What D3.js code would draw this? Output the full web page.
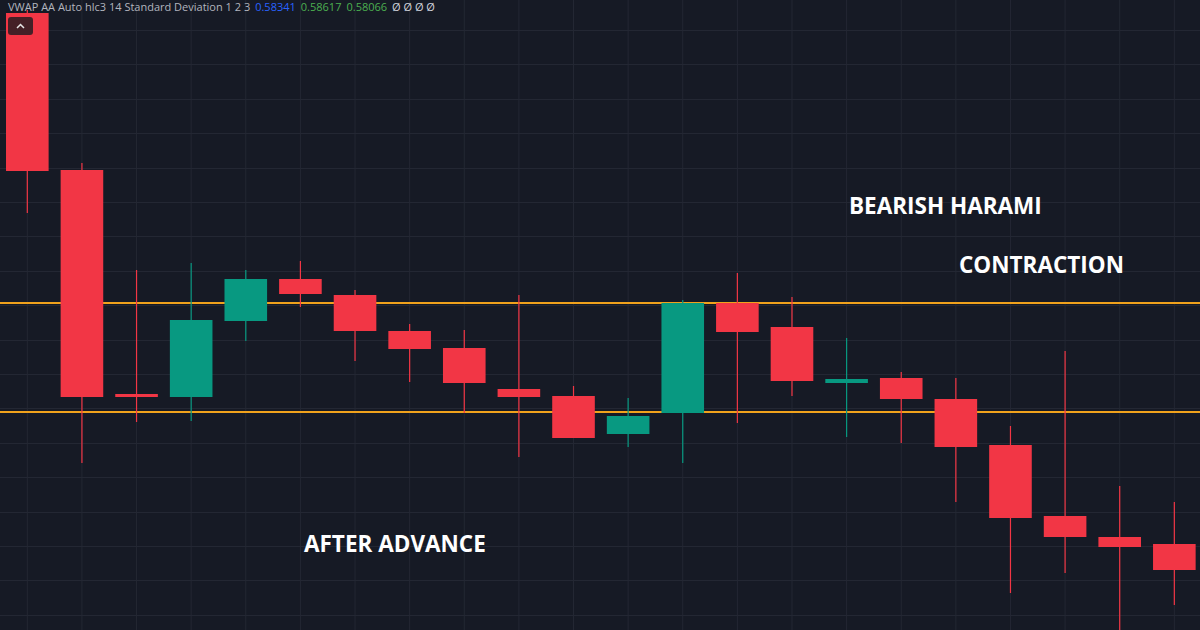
<!DOCTYPE html>
<html><head><meta charset="utf-8">
<script src="https://cdn.jsdelivr.net/npm/d3@7"></script>
<style>
html,body{margin:0;padding:0;background:#161a25;}
svg{display:block;}
</style></head>
<body>
<svg id="chart" width="1200" height="630"></svg>
<script>
// Candle data (price units)
const bars = d3.range(22);
const opens  = [0.59085,0.58300,0.57180,0.57165,0.57545,0.57755,0.57675,0.57495,0.57410,0.57205,0.57170,0.56980,0.57085,0.57635,0.57515,0.57235,0.57260,0.57155,0.56925,0.56570,0.56465,0.56430];
const highs  = [0.59100,0.58335,0.57800,0.57835,0.57800,0.57845,0.57700,0.57530,0.57500,0.57675,0.57220,0.57160,0.57650,0.57785,0.57665,0.57460,0.57290,0.57260,0.57020,0.57395,0.56720,0.56640];
const lows   = [0.58085,0.56835,0.57040,0.57045,0.57445,0.57615,0.57345,0.57240,0.57085,0.56865,0.56960,0.56915,0.56835,0.57035,0.57170,0.56965,0.56935,0.56640,0.56185,0.56285,0.55975,0.56125];
const closes = [0.58295,0.57165,0.57165,0.57550,0.57755,0.57680,0.57495,0.57405,0.57235,0.57165,0.56960,0.57070,0.57635,0.57490,0.57245,0.57255,0.57155,0.56915,0.56560,0.56465,0.56415,0.56300];
const levels = [0.57635, 0.57090];
const headerParts = [
  {t:"VWAP AA Auto hlc3 14 Standard Deviation 1 2 3", c:"#b2b5be"},
  {t:"0.58341", c:"#2962ff"},
  {t:"0.58617", c:"#4caf50"},
  {t:"0.58066", c:"#4caf50"},
  {t:"Ø Ø Ø Ø", c:"#d1d4dc"}
];
const labels = [
  {t:"BEARISH HARAMI", x:849, p:0.58080},
  {t:"CONTRACTION", x:959, p:0.57785},
  {t:"AFTER ADVANCE", x:304, p:0.56390}
];

const W = 1200, H = 630;
const svg = d3.select("#chart");
const x = d3.scaleBand().domain(bars).range([0, 22*54.62]).paddingInner(0.22).paddingOuter(0.11);
const y = d3.scaleLinear().domain([0.5600, 0.5915]).range([H, 0]);

svg.append("rect").attr("width",W).attr("height",H).attr("fill","#161a25");

// grid
const g = svg.append("g");
g.selectAll("line.v").data(bars).join("line")
  .attr("x1", d=>x(d)+x.bandwidth()/2).attr("x2", d=>x(d)+x.bandwidth()/2)
  .attr("y1",0).attr("y2",H).attr("stroke","#232733").attr("stroke-width",1);
const hticks = d3.range(0.5900, 0.5595, -0.00172);
g.selectAll("line.h").data(hticks).join("line")
  .attr("x1",0).attr("x2",W)
  .attr("y1", d=>Math.round(y(d))+0.5).attr("y2", d=>Math.round(y(d))+0.5)
  .attr("stroke","#232733").attr("stroke-width",1);

// levels
svg.selectAll("line.lvl").data(levels).join("line")
  .attr("x1",0).attr("x2",W)
  .attr("y1", d=>y(d)).attr("y2", d=>y(d))
  .attr("stroke","#f0a21c").attr("stroke-width",2);

const up = i => closes[i] >= opens[i];
const col = i => up(i) ? "#089981" : "#f23645";

// wicks
svg.selectAll("line.wick").data(bars).join("line")
  .attr("x1", d=>x(d)+x.bandwidth()/2).attr("x2", d=>x(d)+x.bandwidth()/2)
  .attr("y1", d=>y(highs[d])).attr("y2", d=>y(lows[d]))
  .attr("stroke", d=>col(d)).attr("stroke-width",1.2);
// bodies
svg.selectAll("rect.body").data(bars).join("rect")
  .attr("x", d=>x(d)).attr("width", x.bandwidth())
  .attr("y", d=>y(Math.max(opens[d],closes[d])))
  .attr("height", d=>Math.max(3, Math.abs(y(opens[d])-y(closes[d]))))
  .attr("fill", d=>col(d));

// header
const ht = svg.append("text").attr("x",8).attr("y",8).attr("font-family","'Open Sans', sans-serif")
  .attr("font-size",11).attr("dominant-baseline","middle");
headerParts.forEach((p,i)=>{
  ht.append("tspan").attr("fill",p.c).attr("dx", i===0?0:5).text(p.t);
});

// collapse button
svg.append("rect").attr("x",8).attr("y",17).attr("width",25).attr("height",18).attr("rx",3)
  .attr("fill","#3a2026").attr("opacity",0.95);
svg.append("path").attr("d","M17 28 L20.5 24.5 L24 28").attr("fill","none").attr("stroke","#e6e6e6").attr("stroke-width",1.5);

// labels
svg.selectAll("text.lbl").data(labels).join("text")
  .attr("x", d=>d.x).attr("y", d=>y(d.p))
  .attr("fill","#ffffff").attr("font-family","'Open Sans', sans-serif")
  .attr("font-weight",700).attr("font-size",22.5)
  .text(d=>d.t);
</script>
</body></html>
